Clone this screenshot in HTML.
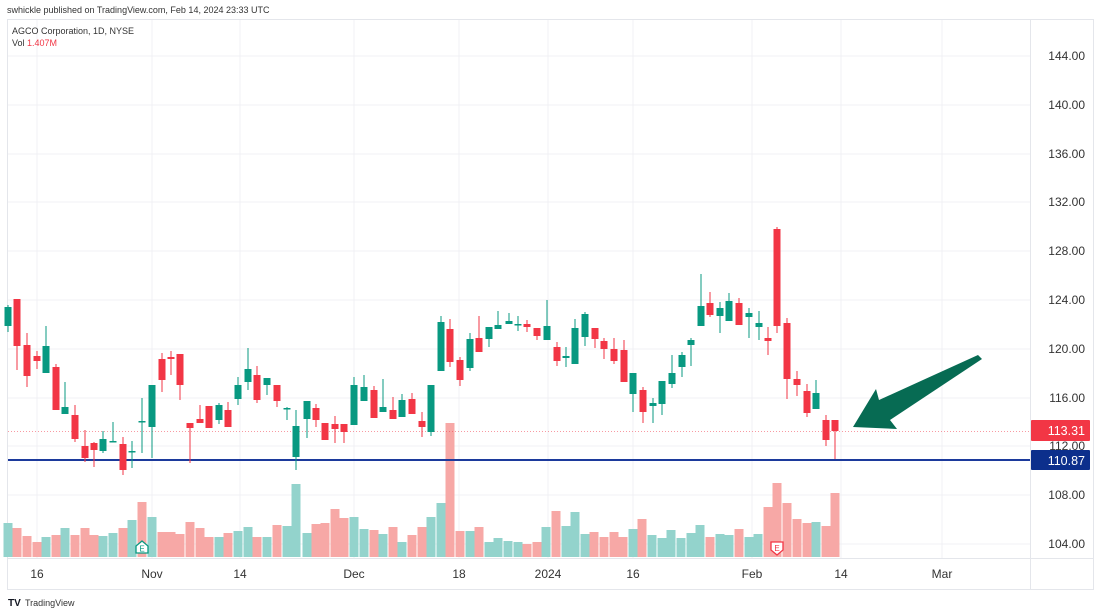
<!DOCTYPE html>
<html><head><meta charset="utf-8"><style>
html,body{margin:0;padding:0;background:#fff;width:1100px;height:615px;overflow:hidden}
svg{display:block}
text{font-family:"Liberation Sans",sans-serif}
</style></head><body>
<svg id="s" width="1100" height="615" viewBox="0 0 1100 615" xmlns="http://www.w3.org/2000/svg">
<text x="7" y="13" font-size="9" fill="#333">swhickle published on TradingView.com, Feb 14, 2024 23:33 UTC</text>
<rect x="7.5" y="19.5" width="1086" height="570" fill="none" stroke="#e4e6eb"/>
<g stroke="#f0f1f4" stroke-width="1" id="grid">
<line x1="8" x2="1030" y1="56" y2="56"/><line x1="8" x2="1030" y1="105" y2="105"/><line x1="8" x2="1030" y1="154" y2="154"/><line x1="8" x2="1030" y1="202" y2="202"/><line x1="8" x2="1030" y1="251" y2="251"/><line x1="8" x2="1030" y1="300" y2="300"/><line x1="8" x2="1030" y1="349" y2="349"/><line x1="8" x2="1030" y1="398" y2="398"/><line x1="8" x2="1030" y1="446" y2="446"/><line x1="8" x2="1030" y1="495" y2="495"/><line x1="8" x2="1030" y1="544" y2="544"/>
<line y1="20" y2="558" x1="37" x2="37"/><line y1="20" y2="558" x1="152" x2="152"/><line y1="20" y2="558" x1="240" x2="240"/><line y1="20" y2="558" x1="354" x2="354"/><line y1="20" y2="558" x1="459" x2="459"/><line y1="20" y2="558" x1="548" x2="548"/><line y1="20" y2="558" x1="633" x2="633"/><line y1="20" y2="558" x1="752" x2="752"/><line y1="20" y2="558" x1="841" x2="841"/><line y1="20" y2="558" x1="942" x2="942"/>
</g>
<line x1="8" x2="1093" y1="558.5" y2="558.5" stroke="#e4e6eb"/>
<line x1="1030.5" x2="1030.5" y1="20" y2="589" stroke="#e4e6eb"/>
<text x="12" y="34" font-size="9" fill="#333">AGCO Corporation, 1D, NYSE</text>
<text x="12" y="46" font-size="9" fill="#333">Vol <tspan fill="#f23645">1.407M</tspan></text>
<g id="vol"></g>
<line x1="8" x2="1030" y1="431.5" y2="431.5" stroke="#f23645" stroke-opacity="0.5" stroke-dasharray="1,2"/>
<line x1="8" x2="1030" y1="460" y2="460" stroke="#1c3a9c" stroke-width="2"/>
<g id="cndl"></g>
<polygon points="853,427 876,389 879,400 978,355 982,359 890,420 897,429" fill="#076b53"/>
<g font-size="12" fill="#333" text-anchor="end">
<text x="1085" y="60">144.00</text><text x="1085" y="109">140.00</text><text x="1085" y="158">136.00</text><text x="1085" y="206">132.00</text><text x="1085" y="255">128.00</text><text x="1085" y="304">124.00</text><text x="1085" y="353">120.00</text><text x="1085" y="402">116.00</text><text x="1085" y="450">112.00</text><text x="1085" y="499">108.00</text><text x="1085" y="548">104.00</text>
</g>
<rect x="1031" y="420" width="59" height="21" fill="#f23645" rx="1"/>
<text x="1085" y="435" font-size="12.5" fill="#fff" text-anchor="end">113.31</text>
<rect x="1031" y="450" width="59" height="20" fill="#0c2f8c" rx="1"/>
<text x="1085" y="465" font-size="12.5" fill="#fff" text-anchor="end">110.87</text>
<g font-size="12" fill="#333" text-anchor="middle">
<text x="37" y="578">16</text><text x="152" y="578">Nov</text><text x="240" y="578">14</text><text x="354" y="578">Dec</text><text x="459" y="578">18</text><text x="548" y="578">2024</text><text x="633" y="578">16</text><text x="752" y="578">Feb</text><text x="841" y="578">14</text><text x="942" y="578">Mar</text>
</g>
<text x="8" y="606" font-size="10" fill="#131722" font-weight="bold">TV</text>
<text x="25" y="606" font-size="9" fill="#333">TradingView</text>
</svg>
<script>
var G="#089981",R="#f23645";
// x, open, close, high, low (pixel y)
var C=[[8,326,307,305,332],[17,299,346,299,370],[27,345,376,333,387],[37,356,361,351,369],[46,373,346,326,373],[56,367,410,364,410],[65,414,407,382,414],[75,415,439,405,442],[85,446,458,430,462],[94,443,450,442,467],[103,451,439,431,453],[113,441,441,422,442],[123,444,470,437,475],[132,451,451,441,468],[142,421,421,398,453],[152,427,385,385,458],[162,359,380,353,392],[171,357,359,351,375],[180,354,385,354,400],[190,423,428,423,463],[200,419,423,405,423],[209,406,428,406,428],[219,420,405,403,424],[228,410,427,402,427],[238,399,385,377,405],[248,382,369,348,390],[257,375,400,366,403],[267,385,378,378,395],[277,385,401,385,407],[287,408,408,407,420],[296,457,426,410,470],[307,419,401,401,438],[316,408,420,404,427],[325,423,440,423,440],[335,424,429,416,443],[344,424,432,424,443],[354,425,385,377,425],[364,401,387,375,401],[374,390,418,386,418],[383,412,407,379,412],[393,410,419,397,419],[402,417,400,394,417],[412,399,414,393,414],[422,421,427,412,437],[431,432,385,385,436],[441,371,322,316,371],[450,329,362,319,367],[460,360,380,357,386],[470,368,339,333,371],[479,338,352,316,352],[489,339,327,327,347],[498,329,325,311,329],[509,324,321,313,324],[518,324,324,316,331],[527,324,327,320,332],[537,328,336,328,340],[547,340,326,300,340],[557,347,361,342,366],[566,358,356,347,367],[575,364,328,319,364],[585,337,314,312,346],[595,328,339,328,348],[604,341,349,338,359],[614,349,361,338,364],[624,350,382,340,382],[633,394,373,373,412],[643,390,412,387,423],[653,406,403,398,423],[662,404,381,381,415],[672,384,373,355,388],[682,367,355,352,377],[691,345,340,338,366],[701,326,306,274,326],[710,303,315,292,317],[720,316,308,302,333],[729,321,301,293,321],[739,303,325,298,325],[749,317,313,308,338],[759,327,323,311,340],[768,338,341,327,355],[777,229,326,227,333],[787,323,379,318,399],[797,379,385,371,396],[807,391,413,384,417],[816,409,393,380,409],[826,420,440,415,446],[835,420,431,420,459]];
var V=[[8,523,G],[17,528,R],[27,536,R],[37,542,R],[46,537,G],[56,535,R],[65,528,G],[75,535,R],[85,528,R],[94,535,R],[103,536,G],[113,533,G],[123,528,R],[132,520,G],[142,502,R],[152,517,G],[162,532,R],[171,532,R],[180,534,R],[190,522,R],[200,528,R],[209,537,R],[219,537,G],[228,533,R],[238,531,G],[248,527,G],[257,537,R],[267,537,G],[277,525,R],[287,526,G],[296,484,G],[307,533,G],[316,524,R],[325,523,R],[335,509,R],[344,518,R],[354,517,G],[364,529,G],[374,530,R],[383,534,G],[393,527,R],[402,542,G],[412,535,R],[422,527,R],[431,517,G],[441,503,G],[450,423,R],[460,531,R],[470,531,G],[479,527,R],[489,542,G],[498,538,G],[508,541,G],[518,542,G],[527,544,R],[537,542,R],[546,527,G],[556,511,R],[566,526,G],[575,512,G],[585,534,G],[594,532,R],[604,537,R],[614,532,R],[623,537,R],[633,529,G],[642,519,R],[652,535,G],[662,538,G],[671,530,G],[681,538,G],[691,533,G],[700,525,G],[710,537,R],[720,534,G],[729,535,G],[739,529,R],[749,537,G],[758,534,G],[768,507,R],[777,483,R],[787,503,R],[797,519,R],[807,523,R],[816,522,G],[826,526,R],[835,493,R]];
var ns="http://www.w3.org/2000/svg";
function el(p,t,a){var e=document.createElementNS(ns,t);for(var k in a)e.setAttribute(k,a[k]);p.appendChild(e);return e;}
var vg=document.getElementById("vol"),cg=document.getElementById("cndl");
V.forEach(function(v){el(vg,"rect",{x:v[0]-4.5,y:v[1],width:9,height:557-v[1],fill:v[2]==G?"#93d3cc":"#f7a8a6"});});
C.forEach(function(c){var x=c[0],o=c[1],cl=c[2],col=cl<o?G:(cl>o?R:G);
var top=Math.min(o,cl),bot=Math.max(o,cl);
el(cg,"line",{x1:x,x2:x,y1:c[3],y2:c[4],stroke:col,"stroke-width":1});
el(cg,"rect",{x:x-3.5,y:top,width:7,height:Math.max(1.5,bot-top),fill:col});});
// earnings markers
function earn(x,col){var g=el(cg,"g",{});el(g,"path",{d:"M"+(x-6)+",553 V546 L"+x+",541 L"+(x+6)+",546 V553 Z",fill:"#fff",stroke:col,"stroke-width":1.3});var t=el(g,"text",{x:x,y:551.5,"font-size":8,"text-anchor":"middle",fill:col});t.textContent="E";}
earn(142,G);
(function(){var x=777,col=R;var g=el(cg,"g",{});el(g,"path",{d:"M"+(x-6)+",542 V550 L"+x+",555 L"+(x+6)+",550 V542 Z",fill:"#fff",stroke:col,"stroke-width":1.3});var t=el(g,"text",{x:x,y:551,"font-size":8,"text-anchor":"middle",fill:col});t.textContent="E";})();
</script>
</body></html>
